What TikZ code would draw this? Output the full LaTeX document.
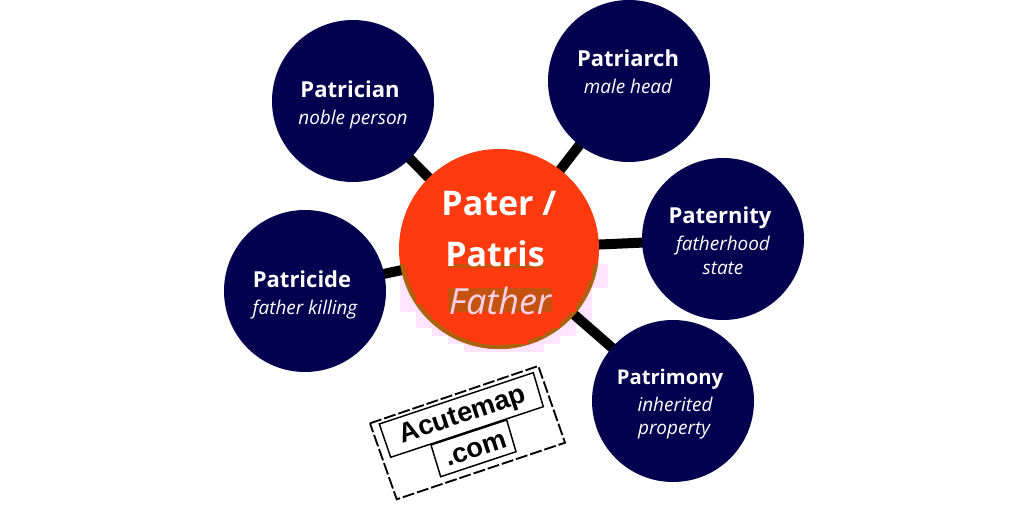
\documentclass[tikz,border=0pt]{standalone}
\usepackage{fontspec}
\setmainfont{Open Sans}
\newfontfamily\stampfont{Liberation Sans}
\definecolor{navy}{HTML}{02004F}
\definecolor{hub}{HTML}{FF3A0E}
\definecolor{haze}{HTML}{FFE4FF}
\definecolor{olive}{HTML}{A8640F}
\definecolor{band}{HTML}{C4530F}
\definecolor{pinktxt}{HTML}{FFCFE6}
\tikzset{
  x=0.75pt,y=-0.75pt,
  spoke/.style={draw=black,line width=7.5pt},
  leaf/.style={circle,fill=navy,minimum size=121.5pt,inner sep=0pt,text=white,align=center},
  hubnode/.style={circle,fill=hub,minimum size=150pt,inner sep=0pt},
  txt/.style={text=white,inner sep=0pt,align=center},
  stampbox/.style={draw=black,line width=1.1pt,line join=miter},
  stampdash/.style={stampbox,line width=1.4pt,dash pattern=on 9pt off 2.2pt},
  stamptxt/.style={inner sep=0pt,rotate=18.5,text=black}
}
\newcommand{\hd}[1]{{\fontsize{16.5pt}{20pt}\selectfont\bfseries #1}}
\newcommand{\hdn}[1]{{\fontsize{15.2pt}{20pt}\selectfont\bfseries #1}}
\newcommand{\sbt}[1]{{\fontsize{14.2pt}{18pt}\selectfont\itshape #1}}
\newcommand{\edgecells}[1]{%
  \foreach \bx in {400,416,...,592}{%
    \foreach \by in {264,272,...,344}{%
      \pgfmathsetmacro{\da}{sqrt(((\bx-499)/100)^2+((\by-249)/100)^2)}%
      \pgfmathsetmacro{\db}{sqrt(((\bx+16-499)/100)^2+((\by-249)/100)^2)}%
      \pgfmathsetmacro{\dc}{sqrt(((\bx-499)/100)^2+((\by+8-249)/100)^2)}%
      \pgfmathsetmacro{\dd}{sqrt(((\bx+16-499)/100)^2+((\by+8-249)/100)^2)}%
      \pgfmathsetmacro{\dmin}{min(\da,\db,\dc,\dd)}%
      \pgfmathsetmacro{\dmax}{max(\da,\db,\dc,\dd)}%
      \pgfmathparse{(\dmin<1.0 && \dmax>1.0) ? 1 : 0}%
      \ifnum\pgfmathresult=1\relax
        \fill[#1] (\bx,\by) rectangle ++(16,8);%
      \fi
    }%
  }%
}
\begin{document}
\begin{tikzpicture}
\useasboundingbox (0,0) rectangle (1024,524);
\fill[white] (0,0) rectangle (1024,524);
\edgecells{haze}
\coordinate (cpatrician) at (353,101);
\coordinate (cpatriarch) at (629,81);
\coordinate (cpaternity) at (723,239);
\coordinate (cpatrimony) at (673,401);
\coordinate (cpatricide) at (305,291);
\coordinate (chub) at (499,249);
\foreach \n in {patrician,patriarch,paternity,patrimony,patricide}
  \draw[spoke] (chub) -- (c\n);
\node[leaf] (patrician) at (cpatrician) {};
\node[leaf] (patriarch) at (cpatriarch) {};
\node[leaf] (paternity) at (cpaternity) {};
\node[leaf] (patrimony) at (cpatrimony) {};
\node[leaf] (patricide) at (cpatricide) {};
\node[hubnode] (hub) at (chub) {};
\begin{scope}
\clip (chub) circle[radius=100];
\edgecells{olive}
\end{scope}
\fill[hub] (chub) circle[radius=96];
\fill[band] (448,288) rectangle (552,312);
\fill[band] (448,264) rectangle (544,268);
\node[txt] (t1a) at (350,89) {\hd{Patrician}};
\node[txt] (t1b) at (353,120) {\sbt{noble person}};
\node[txt] (t2a) at (628,58) {\hd{Patriarch}};
\node[txt] (t2b) at (628,86) {\sbt{male head}};
\node[txt] (t3a) at (720,218) {\hd{Paternity}};
\node[txt] (t3b) at (723,246) {\sbt{fatherhood}};
\node[txt] (t3c) at (723,268) {\sbt{state}};
\node[txt] (t4a) at (670,379) {\hdn{Patrimony}};
\node[txt] (t4b) at (675,404) {\sbt{inherited}};
\node[txt] (t4c) at (674,431) {\sbt{property}};
\node[txt] (t5a) at (302,279) {\hd{Patricide}};
\node[txt] (t5b) at (305,310) {\sbt{father killing}};
\node[txt] (h1) at (499,204) {\fontsize{25.5pt}{30pt}\selectfont\bfseries Pater /};
\node[txt] (h2) at (495,254) {\fontsize{25.5pt}{30pt}\selectfont\bfseries Patris};
\node[txt,text=pinktxt] (h3) at (500,301) {\fontsize{27pt}{30pt}\selectfont\itshape Father};
% stamp
\draw[stampdash] (370,423.3) -- (538.3,366) -- (565,442.7) -- (396.7,499.3) -- cycle;
\draw[stampbox] (379.3,424) -- (533.3,372.7) -- (543.3,406.7) -- (390.7,457.3) -- cycle;
\draw[stampbox] (431,445) -- (506.7,420) -- (516,451.7) -- (440.7,476.7) -- cycle;
\node[stamptxt,font=\stampfont\bfseries\fontsize{20.5pt}{24pt}\selectfont] (s1) at (463,416) {Acutemap};
\node[stamptxt,font=\stampfont\bfseries\fontsize{20.5pt}{24pt}\selectfont] (s2) at (476,450) {.com};
\end{tikzpicture}
\end{document}
